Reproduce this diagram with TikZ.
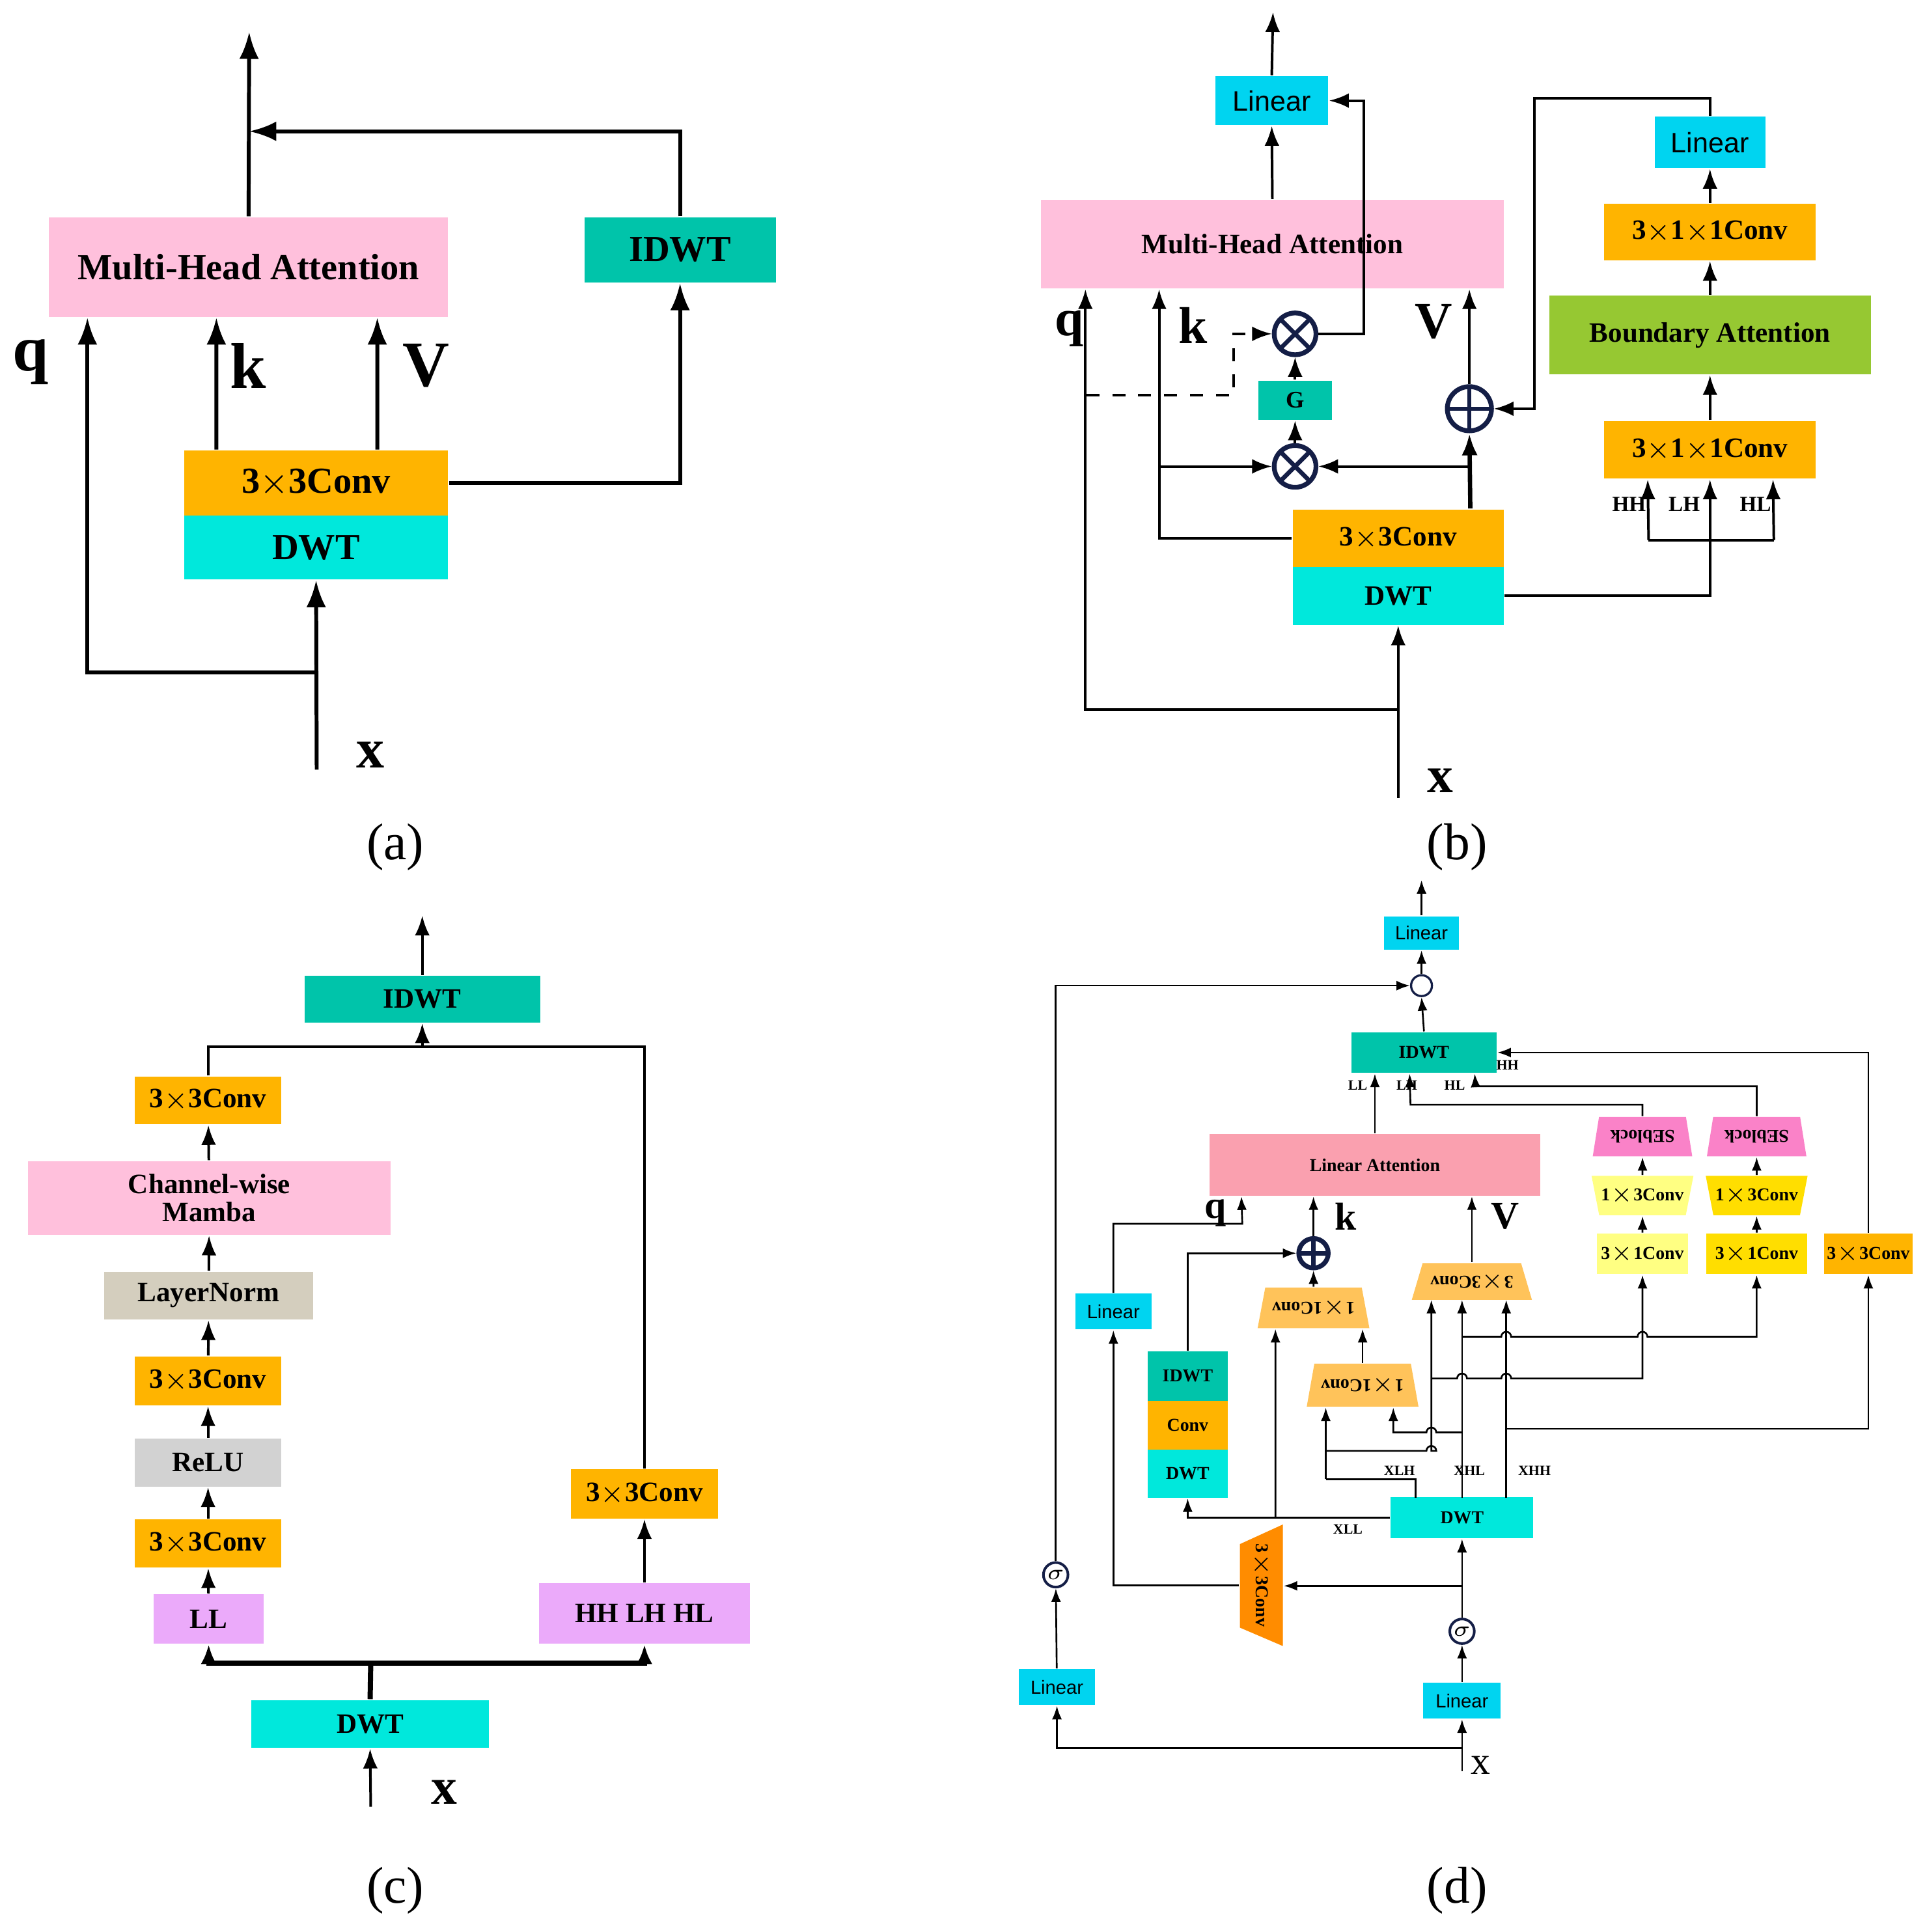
\documentclass[tikz,border=0pt]{standalone}
\usepackage{fontspec}
\setmainfont{Liberation Serif}
\setsansfont{Liberation Sans}
\usepackage{amsmath}
\usetikzlibrary{shapes.geometric, arrows.meta, positioning}
\definecolor{mhapink}{RGB}{255,192,220}
\definecolor{idwtteal}{RGB}{0,196,170}
\definecolor{convorange}{RGB}{255,180,0}
\definecolor{dwtcyan}{RGB}{0,232,220}
\definecolor{linblue}{RGB}{0,212,240}
\definecolor{bagreen}{RGB}{150,200,50}
\definecolor{lnbeige}{RGB}{212,206,190}
\definecolor{relugray}{RGB}{210,210,210}
\definecolor{bandviolet}{RGB}{235,170,250}
\definecolor{lapink}{RGB}{250,160,175}
\definecolor{sepink}{RGB}{250,130,200}
\definecolor{lyellow}{RGB}{255,255,130}
\definecolor{goldy}{RGB}{255,222,0}
\definecolor{lorange}{RGB}{255,195,90}
\definecolor{dorange}{RGB}{255,140,0}
\definecolor{opnavy}{RGB}{20,30,70}
\tikzset{
  sz/.style 2 args={minimum width=#1cm, minimum height=#2cm},
  box/.style={rectangle, inner sep=0pt, align=center},
  fa/.style={font=\fontsize{8.5}{9}\selectfont\bfseries},
  fb/.style={font=\fontsize{6.5}{7.5}\selectfont\bfseries},
  fd/.style={font=\fontsize{4.2}{5}\selectfont\bfseries},
  lin/.style={font=\fontsize{6.5}{7}\selectfont\sffamily},
  lind/.style={font=\fontsize{4.4}{5}\selectfont\sffamily},
  tiny/.style={font=\fontsize{3.3}{4}\selectfont\bfseries},
  arA/.style={line width=0.9pt, -{Latex[length=2.2mm,width=1.6mm]}},
  arB/.style={line width=0.6pt, -{Latex[length=1.6mm,width=1.2mm]}},
  arD/.style={line width=0.4pt, -{Latex[length=1.1mm,width=0.8mm]}},
  trap/.style={trapezium, trapezium stretches=true, inner sep=0pt},
  opc/.style={circle, draw=opnavy, line width=1.1pt, minimum size=#1cm, inner sep=0pt},
  mulc/.style={opc=#1, path picture={\draw[opnavy, line width=1pt]
      (path picture bounding box.north west) -- (path picture bounding box.south east)
      (path picture bounding box.south west) -- (path picture bounding box.north east);}},
  addc/.style={opc=#1, path picture={\draw[opnavy, line width=1pt]
      (path picture bounding box.north) -- (path picture bounding box.south)
      (path picture bounding box.west) -- (path picture bounding box.east);}},
  dotc/.style={opc=#1, line width=0.5pt, path picture={\fill[black] (path picture bounding box.center) circle (0.03);}}
}
\begin{document}
\begin{tikzpicture}[x=0.01cm, y=-0.01cm]
\useasboundingbox (0,0) rectangle (1568,1574);

% ---------- (a)
\node[box, fa, sz={3.25}{0.81}, fill=mhapink] (mhaA) at (202.5,217.5) {Multi-Head Attention};
\node[box, fa, sz={1.56}{0.53}, fill=idwtteal] (idwtA) at (554,203.5) {IDWT};
\node[box, fa, sz={2.15}{0.53}, fill=convorange] (convA) at (257.5,393.5) {3$\times$3Conv};
\node[box, fa, sz={2.15}{0.52}, fill=dwtcyan] (dwtA) at (257.5,446) {DWT};
\coordinate (xa) at (258,627);
\coordinate (spa) at (258,548);
\coordinate (ja) at (203,107);
\coordinate (topa) at (203,26);
\draw[arA] (xa) -- (dwtA.south);
\draw[arA] (spa) -| ([xshift=0.32cm]mhaA.south west);
\draw[arA] ([xshift=0.27cm]convA.north west) -- ([xshift=1.37cm]mhaA.south west);
\draw[arA] ([xshift=1.58cm]convA.north west) -- ([xshift=2.68cm]mhaA.south west);
\draw[arA] (convA.east) -| (idwtA.south);
\draw[arA] (idwtA.north) |- (ja);
\draw[arA] (mhaA.north) -- (topa);
\node[font=\fontsize{15}{16}\selectfont\bfseries] at (25,295) {q};
\node[font=\fontsize{15}{16}\selectfont\bfseries] at (202,298) {k};
\node[font=\fontsize{15}{16}\selectfont\bfseries] at (347,298) {V};
\node[font=\fontsize{13}{14}\selectfont\bfseries] at (302,615) {x};
\node[font=\fontsize{12}{14}\selectfont] at (322,690) {(a)};

% ---------- (b)
\node[box, lin, sz={0.92}{0.40}, fill=linblue] (linT) at (1036,82) {Linear};
\node[box, fb, sz={3.77}{0.72}, fill=mhapink] (mhaB) at (1036.5,199) {Multi-Head Attention};
\node[box, lin, sz={0.90}{0.42}, fill=linblue] (linR) at (1393,116) {Linear};
\node[box, fb, sz={1.72}{0.46}, fill=convorange] (c311a) at (1393,189) {3$\times$1$\times$1Conv};
\node[box, fb, sz={2.62}{0.64}, fill=bagreen] (ba) at (1393,273) {Boundary Attention};
\node[box, fb, sz={1.72}{0.47}, fill=convorange] (c311b) at (1393,366.5) {3$\times$1$\times$1Conv};
\node[box, fb, sz={1.72}{0.47}, fill=convorange] (convB) at (1139,438.5) {3$\times$3Conv};
\node[box, fb, sz={1.72}{0.47}, fill=dwtcyan] (dwtB) at (1139,485.5) {DWT};
\node[mulc=0.34] (mul1) at (1055,272) {};
\node[box, font=\fontsize{5.5}{6}\selectfont\bfseries, sz={0.60}{0.32}, fill=idwtteal] (gB) at (1055,326) {G};
\node[mulc=0.34] (mul2) at (1055,380) {};
\node[addc=0.36] (plusB) at (1197,333) {};
\coordinate (xb) at (1139,650);
\coordinate (spb) at (1139,578);
\coordinate (dq) at (885,322);
\coordinate (kb) at (945,380);
\coordinate (vb) at (1197,380);
\coordinate (topb) at (1037,10);
\coordinate (bandB) at (1393,440);
\draw[arB] (xb) -- (dwtB.south);
\draw[arB] (spb) -| ([xshift=0.37cm]mhaB.south west);
\draw[arB, dashed] (dq) -- (1005,322) |- (mul1.west);
\draw[arB] (convB.west) -| ([xshift=0.97cm]mhaB.south west);
\draw[arB] (kb) -- (mul2.west);
\draw[line width=1pt, -{Latex[length=1.8mm,width=1.3mm]}] ([xshift=-0.28cm]convB.north east) -- (plusB.south);
\draw[arB] (vb) -- (mul2.east);
\draw[arB] (plusB.north) -- (plusB.north |- mhaB.south);
\draw[arB] (mul2) -- (gB);
\draw[arB] (gB) -- (mul1);
\draw[arB] (mul1.east) -- (1111,272) |- (linT.east);
\draw[arB] (mhaB.north) -- (linT.south);
\draw[arB] (linT.north) -- (topb);
\draw[line width=0.6pt] (dwtB.east) -| (bandB);
\draw[line width=0.6pt] (1343,440) -- (1445,440);
\draw[arB] (1343,440) -- ([xshift=0.36cm]c311b.south west);
\draw[arB] (bandB) -- (c311b.south);
\draw[arB] (1445,440) -- ([xshift=1.38cm]c311b.south west);
\draw[arB] (c311b) -- (ba);
\draw[arB] (ba) -- (c311a);
\draw[arB] (c311a) -- (linR);
\draw[arB] (linR.north) -- (1393,80) -| (1250,333) -- (plusB.east);
\node[font=\fontsize{5}{6}\selectfont\bfseries] at (1327,411) {HH};
\node[font=\fontsize{5}{6}\selectfont\bfseries] at (1372,411) {LH};
\node[font=\fontsize{5}{6}\selectfont\bfseries] at (1430,411) {HL};
\node[font=\fontsize{12}{13}\selectfont\bfseries] at (871,268) {q};
\node[font=\fontsize{12}{13}\selectfont\bfseries] at (972,265) {k};
\node[font=\fontsize{12}{13}\selectfont\bfseries] at (1168,262) {V};
\node[font=\fontsize{12}{13}\selectfont\bfseries] at (1173,636) {x};
\node[font=\fontsize{12}{14}\selectfont] at (1187,690) {(b)};

% ---------- (c)
\node[box, fb, sz={1.92}{0.38}, fill=idwtteal] (idwtC) at (344,814) {IDWT};
\node[box, fb, sz={1.19}{0.39}, fill=convorange] (c1) at (169.5,896.5) {3$\times$3Conv};
\node[box, fb, sz={2.95}{0.60}, fill=mhapink] (cwm) at (170.5,976) {Channel-wise\\[-1pt]Mamba};
\node[box, fb, sz={1.70}{0.39}, fill=lnbeige] (lnC) at (170,1055.5) {LayerNorm};
\node[box, fb, sz={1.19}{0.40}, fill=convorange] (c2) at (169.5,1125) {3$\times$3Conv};
\node[box, fb, sz={1.19}{0.39}, fill=relugray] (relu) at (169.5,1191.5) {ReLU};
\node[box, fb, sz={1.19}{0.39}, fill=convorange] (c3) at (169.5,1257.5) {3$\times$3Conv};
\node[box, fb, sz={0.90}{0.40}, fill=bandviolet] (ll) at (170,1319) {LL};
\node[box, fb, sz={1.72}{0.49}, fill=bandviolet] (hh) at (525,1314.5) {HH LH HL};
\node[box, fb, sz={1.20}{0.40}, fill=convorange] (cr) at (525,1217) {3$\times$3Conv};
\node[box, fb, sz={1.93}{0.39}, fill=dwtcyan] (dwtC) at (301.5,1404.5) {DWT};
\coordinate (xc) at (302,1472);
\coordinate (spc) at (302,1355);
\coordinate (mc) at (344,853);
\coordinate (topc) at (344,746);
\draw[arB] (xc) -- (dwtC.south);
\draw[line width=1.2pt] (dwtC.north) -- (spc);
\draw[line width=1.2pt, -{Latex[length=1.6mm,width=1.3mm]}] (spc) -| (ll.south);
\draw[line width=1.2pt, -{Latex[length=1.6mm,width=1.3mm]}] (spc) -| (hh.south);
\draw[arB] (ll) -- (c3);
\draw[arB] (c3) -- (relu);
\draw[arB] (relu) -- (c2);
\draw[arB] (c2) -- (lnC);
\draw[arB] (lnC) -- (cwm);
\draw[arB] (cwm) -- (c1);
\draw[arB] (hh) -- (cr);
\draw[line width=0.6pt] (c1.north) |- (mc) -| (cr.north);
\draw[arB] (mc) -- (idwtC.south);
\draw[arB] (idwtC.north) -- (topc);
\node[font=\fontsize{12}{13}\selectfont\bfseries] at (362,1460) {x};
\node[font=\fontsize{12}{14}\selectfont] at (322,1540) {(c)};

% ---------- (d)
\node[box, lind, sz={0.61}{0.27}, fill=linblue] (linD) at (1158,760) {Linear};
\node[dotc=0.17] (odot) at (1158,803) {};
\node[box, fd, sz={1.18}{0.33}, fill=idwtteal] (idwtD) at (1160,857.5) {IDWT};
\node[box, fd, sz={2.69}{0.50}, fill=lapink] (la) at (1120,949) {Linear Attention};
\node[trap, fd, sz={0.81}{0.32}, trapezium angle=70, fill=sepink] (se1) at (1338,926) {\rotatebox{180}{SEblock}};
\node[trap, fd, sz={0.81}{0.32}, trapezium angle=70, fill=sepink] (se2) at (1431,926) {\rotatebox{180}{SEblock}};
\node[trap, fd, sz={0.83}{0.32}, trapezium angle=68, shape border rotate=180, fill=lyellow] (c13a) at (1338,974) {1$\times$3Conv};
\node[trap, fd, sz={0.83}{0.32}, trapezium angle=68, shape border rotate=180, fill=goldy] (c13b) at (1431,974) {1$\times$3Conv};
\node[box, fd, sz={0.74}{0.33}, fill=lyellow] (c31a) at (1338,1021.5) {3$\times$1Conv};
\node[box, fd, sz={0.82}{0.33}, fill=goldy] (c31b) at (1431,1021.5) {3$\times$1Conv};
\node[box, fd, sz={0.72}{0.33}, fill=convorange] (c33r) at (1522,1021.5) {3$\times$3Conv};
\node[trap, fd, sz={0.98}{0.30}, trapezium angle=63, fill=lorange] (c33t) at (1199,1044) {\rotatebox{180}{3$\times$3Conv}};
\node[trap, fd, sz={0.91}{0.33}, trapezium angle=70, fill=lorange] (c11a) at (1070,1065.5) {\rotatebox{180}{1$\times$1Conv}};
\node[trap, fd, sz={0.91}{0.35}, trapezium angle=70, fill=lorange] (c11b) at (1110,1128.5) {\rotatebox{180}{1$\times$1Conv}};
\node[addc=0.24] (plusD) at (1070,1021) {};
\node[box, lind, sz={0.62}{0.29}, fill=linblue] (linL) at (907,1068.5) {Linear};
\node[box, fd, sz={0.65}{0.40}, fill=idwtteal] (st1) at (967.5,1121) {IDWT};
\node[box, fd, sz={0.65}{0.40}, fill=convorange] (st2) at (967.5,1161) {Conv};
\node[box, fd, sz={0.65}{0.39}, fill=dwtcyan] (st3) at (967.5,1200.5) {DWT};
\node[box, fd, sz={1.16}{0.33}, fill=dwtcyan] (dwtD) at (1191,1236.5) {DWT};
\fill[dorange] (1045,1242) -- (1045,1341) -- (1010,1326) -- (1010,1258) -- cycle;
\node[box, fd, sz={0.35}{0.99}] (c33d) at (1027.5,1291.5) {\rotatebox{-90}{3$\times$3Conv}};
\node[opc=0.20, line width=0.6pt, font=\fontsize{4}{5}\selectfont\bfseries] (sig1) at (860,1283) {$\sigma$};
\node[opc=0.20, line width=0.6pt, font=\fontsize{4}{5}\selectfont\bfseries] (sig2) at (1191,1329) {$\sigma$};
\node[box, lind, sz={0.62}{0.29}, fill=linblue] (linB1) at (861,1374.5) {Linear};
\node[box, lind, sz={0.63}{0.29}, fill=linblue] (linB2) at (1191,1385.5) {Linear};
\coordinate (xd) at (1191,1443);
\coordinate (spd) at (1191,1424);
\coordinate (s3) at (1191,1292);
\coordinate (topd) at (1158,717);
\draw[arD] (xd) -- (linB2.south);
\draw[arD] (spd) -| (linB1.south);
\draw[arD] (linB1) -- (sig1);
\draw[arD] (sig1.north) |- (odot.west);
\draw[arD] (linB2) -- (sig2);
\draw[arD] (sig2) -- (dwtD.south);
\draw[arD] (s3) -- (s3 -| c33d.east);
\draw[arD] (c33d.west) -| (linL.south);
\draw[arD] (linL.north) |- (1012,997) -- ([xshift=0.265cm]la.south west);
\draw[arD] (dwtD.west) -| (st3.south);
\draw[arD] (1039,1237) -- ([xshift=-0.31cm]c11a.south);
\draw[arD] (st1.north) |- (plusD.west);
\draw[arD] (c11a.north) -- (plusD.south);
\draw[arD] (plusD.north) -- (plusD.north |- la.south);
\draw[arD] (c11b.north) -- (c11b.north |- c11a.south);
\draw[arD] (c33t.north) -- (c33t.north |- la.south);
\draw[arD] (la.north) -- (la.north |- idwtD.south);
\draw[arD] (idwtD.north) -- (odot.south);
\draw[arD] (odot.north) -- (linD.south);
\draw[arD] (linD.north) -- (topd);
\draw[arD] (c31a) -- (c13a);
\draw[arD] (c13a) -- (se1);
\draw[arD] (c31b) -- (c13b);
\draw[arD] (c13b) -- (se2);
\draw[arD] (se1.north) |- (1149,900) -- ([xshift=0.48cm]idwtD.south west);
\draw[arD] (se2.north) |- (1202,885) -- ([xshift=1.01cm]idwtD.south west);
\draw[arD] (c33r.north) |- (idwtD.east);
% XLH
\draw[line width=0.4pt] (1153,1220) -- (1153,1205) -- (1080,1205);
\draw[arD] (1080,1205) -- ([xshift=-0.30cm]c11b.south);
\draw[arD] (1080,1182) -- (1162,1182) arc[start angle=180,end angle=360,radius=4] -- (1166,1182) -- (1166,1059);
\draw[arD] (1166,1123) -- (1187,1123) arc[start angle=180,end angle=360,radius=4] -- (1223,1123) arc[start angle=180,end angle=360,radius=4] -- (1338,1123) -- (c31a.south);
% XHL
\draw[arD] (1191,1220) -- (1191,1059);
\draw[arD] (1191,1167) -- (1170,1167) arc[start angle=360,end angle=180,radius=4] -- (1135,1167) -- ([xshift=0.25cm]c11b.south);
\draw[arD] (1191,1089) -- (1223,1089) arc[start angle=180,end angle=360,radius=4] -- (1334,1089) arc[start angle=180,end angle=360,radius=4] -- (1431,1089) -- (c31b.south);
% XHH
\draw[arD] (1227,1220) -- (1227,1059);
\draw[arD] (1227,1164) -- (1522,1164) -- (c33r.south);
\node[tiny] at (1106,884) {LL};
\node[tiny] at (1146,884) {LH};
\node[tiny] at (1185,884) {HL};
\node[tiny] at (1228,868) {HH};
\node[tiny] at (1140,1198) {XLH};
\node[tiny] at (1197,1198) {XHL};
\node[tiny] at (1250,1198) {XHH};
\node[tiny] at (1098,1246) {XLL};
\node[font=\fontsize{9}{10}\selectfont\bfseries] at (990,988) {q};
\node[font=\fontsize{9}{10}\selectfont\bfseries] at (1096,991) {k};
\node[font=\fontsize{9}{10}\selectfont\bfseries] at (1226,991) {V};
\node[font=\fontsize{9}{10}\selectfont] at (1206,1438) {x};
\node[font=\fontsize{12}{14}\selectfont] at (1187,1540) {(d)};
\end{tikzpicture}
\end{document}
